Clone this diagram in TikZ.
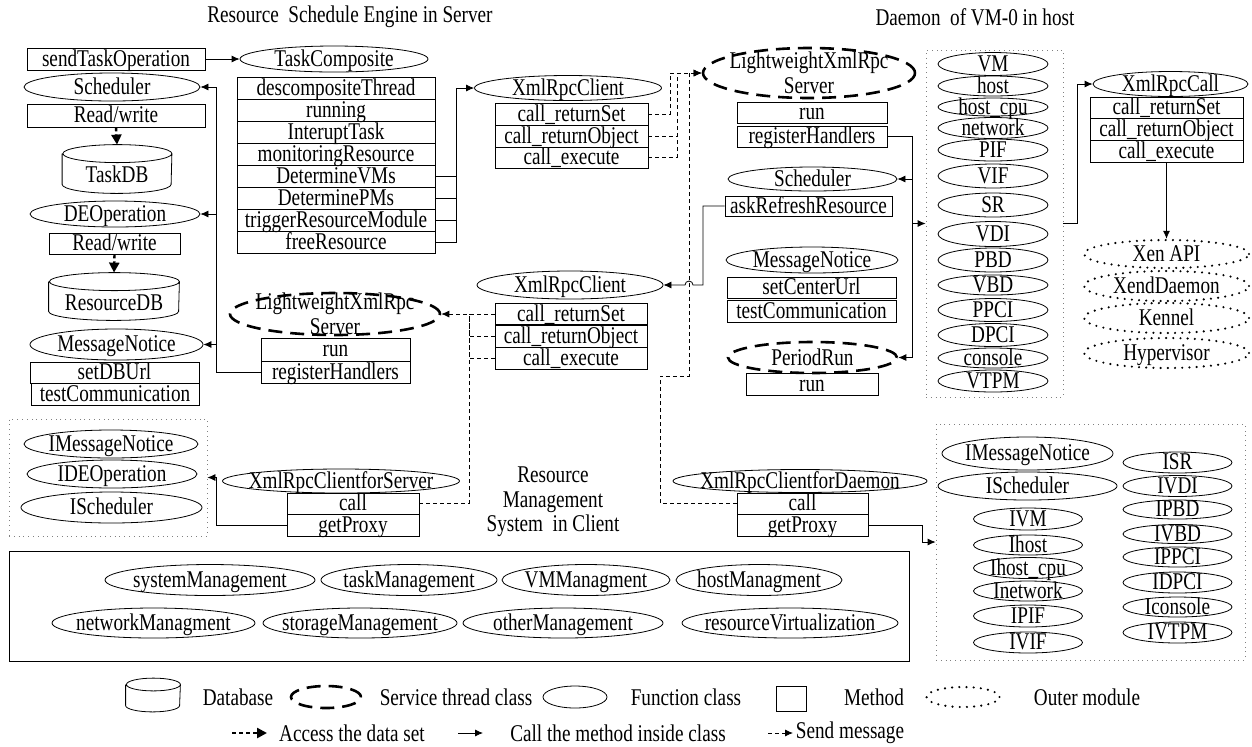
\documentclass[tikz,border=0pt]{standalone}
\usepackage{fontspec}
\setmainfont{Liberation Serif}[FakeStretch=0.8]
\usetikzlibrary{shapes.geometric,arrows.meta,calc}
\tikzset{
    method/.style={draw, rectangle, inner sep=0pt, text height=8.5pt, text depth=1.5pt},
    func/.style={draw, ellipse, inner sep=-30pt, text height=8.5pt, text depth=1.5pt},
    service/.style={draw, ellipse, inner sep=-30pt, line width=1.3pt, dash pattern=on 7pt off 4pt},
    outer/.style={draw, ellipse, inner sep=-30pt, line width=1.2pt, line cap=round, dash pattern=on 0pt off 3.6pt, text height=8.5pt, text depth=1.5pt},
    db/.style={rectangle, inner sep=0pt, text height=15pt, text depth=1.5pt},
    group/.style={draw=gray, dotted, rectangle, inner sep=0pt},
    call/.style={-{Latex[length=4pt,width=3.5pt]}},
    msg/.style={dash pattern=on 2pt off 1.5pt},
    data/.style={line width=1.2pt, dash pattern=on 2pt off 1.5pt, -{Triangle[length=5pt,width=5pt]}}
}
% database outline round a node: name, half width, half height of the cap
\newcommand{\dbdraw}[3]{%
  \draw ([yshift=-#3]#1.north west) -- ([yshift=#3]#1.south west)
    arc[start angle=180, end angle=360, x radius=#2, y radius=#3]
    -- ([yshift=-#3]#1.north east)
    arc[start angle=0, end angle=360, x radius=#2, y radius=#3];
}
\begin{document}
\begin{tikzpicture}[x=0.5pt,y=-0.5pt,every node/.style={font=\fontsize{12}{12.5}\selectfont}]
\useasboundingbox (0,0) rectangle (1252,746);

% titles
\node (ttlS) at (350,17) {Resource\ \ Schedule Engine in Server};
\node (ttlD) at (975,17) {Daemon\ \ of VM-0 in host};

% server, left column
\node[method, minimum width=89pt, minimum height=11pt] (sendop) at (116,59) {sendTaskOperation};
\node[func, minimum width=88pt, minimum height=14pt] (schedL) at (112,87) {Scheduler};
\node[method, minimum width=89pt, minimum height=11.5pt] (rw1) at (116,115.5) {Read/write};
\node[db, minimum width=54.5pt, minimum height=24pt] (taskdb) at (117,169) {TaskDB};
\dbdraw{taskdb}{27.25pt}{4.5pt}
\node[func, minimum width=85pt, minimum height=13pt] (deop) at (115,214) {DEOperation};
\node[method, minimum width=65.5pt, minimum height=10.5pt] (rw2) at (114.5,243.5) {Read/write};
\node[db, minimum width=65pt, minimum height=23.5pt] (resdb) at (114,296.5) {ResourceDB};
\dbdraw{resdb}{32.5pt}{4.5pt}
\node[func, minimum width=86.5pt, minimum height=15.5pt] (msgL) at (116.5,344.5) {MessageNotice};
\node[method, minimum width=84.5pt, minimum height=10.5pt] (setdb) at (114.5,372.5) {setDBUrl};
\node[method, minimum width=84pt, minimum height=11pt] (testL) at (115,394) {testCommunication};

\draw[data] (rw1.south) -- (taskdb.north);
\draw[data] (rw2.south) -- (resdb.north);

% task composite
\node[func, minimum width=94pt, minimum height=13pt] (tcomp) at (334,59) {TaskComposite};
\node[method, minimum width=99pt, minimum height=11pt] (tc1) at (336,88) {descompositeThread};
\node[method, minimum width=99pt, minimum height=11pt] (tc2) at (336,110) {running};
\node[method, minimum width=99pt, minimum height=11pt] (tc3) at (336,132) {InteruptTask};
\node[method, minimum width=99pt, minimum height=11pt] (tc4) at (336,154) {monitoringResource};
\node[method, minimum width=99pt, minimum height=11pt] (tc5) at (336,176) {DetermineVMs};
\node[method, minimum width=99pt, minimum height=11pt] (tc6) at (336,198) {DeterminePMs};
\node[method, minimum width=99pt, minimum height=11pt] (tc7) at (336,220) {triggerResourceModule};
\node[method, minimum width=99pt, minimum height=11pt] (tc8) at (336,242) {freeResource};

\draw[call] (sendop.east) -- (tcomp.west);

% client in server
\node[func, minimum width=93.5pt, minimum height=12.5pt] (xcT) at (568,88) {XmlRpcClient};
\node[method, minimum width=76.5pt, minimum height=11pt] (xcT1) at (571.5,114) {call\_returnSet};
\node[method, minimum width=76.5pt, minimum height=11pt] (xcT2) at (571.5,136) {call\_returnObject};
\node[method, minimum width=76.5pt, minimum height=10.5pt] (xcT3) at (571.5,157.5) {call\_execute};

\coordinate (jT) at (456,88);
\draw[call] (tc8.east) -| (jT) -- (xcT.west);
\draw (tc5.east) -- (tc5.east -| jT);
\draw (tc6.east) -- (tc6.east -| jT);
\draw (tc7.east) -- (tc7.east -| jT);

% server thread of the daemon
\node[service, minimum width=106pt, minimum height=25pt, align=center] (lwsT) at (809,73) {LightweightXmlRpc\\Server};
\node[method, minimum width=75pt, minimum height=10.5pt] (lwsTrun) at (812,112.5) {run};
\node[method, minimum width=75pt, minimum height=10.5pt] (lwsTreg) at (812,136.5) {registerHandlers};

\coordinate (m1) at (670,73);
\coordinate (m2) at (677,73);
\coordinate (d1) at (660,376);
\coordinate (d2) at (689,376);
\draw[msg,call] (xcT1.east) -| (m1) -- (lwsT.west);
\draw[msg] (xcT2.east) -| (m2);
\draw[msg] (xcT3.east) -| (m2);

% daemon classes
\node[func, minimum width=84.5pt, minimum height=12pt] (schedR) at (812.5,179) {Scheduler};
\node[method, minimum width=83.5pt, minimum height=10pt] (askref) at (808.5,206) {askRefreshResource};
\node[func, minimum width=86pt, minimum height=13pt] (msgR) at (812,260) {MessageNotice};
\node[method, minimum width=84.5pt, minimum height=10.5pt] (setcenter) at (811.5,287.5) {setCenterUrl};
\node[method, minimum width=84.5pt, minimum height=11pt] (testR) at (811.5,311) {testCommunication};
\node[service, minimum width=84.5pt, minimum height=15.5pt] (prun) at (812.5,357.5) {PeriodRun};
\node[method, minimum width=66pt, minimum height=11pt] (prunrun) at (812,384) {run};

% VM-0 objects
\node[group, minimum width=68.5pt, minimum height=173.5pt] (vmbox) at (994.5,223.5) {};
\node[func, minimum width=55pt, minimum height=11.5pt] (v1) at (993,64) {VM};
\node[func, minimum width=55pt, minimum height=10pt] (v2) at (993,86) {host};
\node[func, minimum width=55pt, minimum height=9pt] (v3) at (993,107) {host\_cpu};
\node[func, minimum width=55pt, minimum height=10.5pt] (v4) at (993,128) {network};
\node[func, minimum width=55pt, minimum height=11pt] (v5) at (993,150) {PIF};
\node[func, minimum width=55pt, minimum height=12pt] (v6) at (993,176) {VIF};
\node[func, minimum width=55pt, minimum height=12pt] (v7) at (993,205) {SR};
\node[func, minimum width=55pt, minimum height=12.5pt] (v8) at (993,234) {VDI};
\node[func, minimum width=55pt, minimum height=12pt] (v9) at (993,260) {PBD};
\node[func, minimum width=55pt, minimum height=10pt] (v10) at (993,285) {VBD};
\node[func, minimum width=55pt, minimum height=11.5pt] (v11) at (993,310) {PPCI};
\node[func, minimum width=55pt, minimum height=11.5pt] (v12) at (993,335) {DPCI};
\node[func, minimum width=55pt, minimum height=10pt] (v13) at (993,358) {console};
\node[func, minimum width=55pt, minimum height=11pt] (v14) at (993,381) {VTPM};

\coordinate (busR) at (912,357.5);
\draw[call] (lwsTreg.east) -| (busR) -- (prun.east);
\draw[call] (schedR.east -| busR) -- (schedR.east);
\draw[call] (vmbox.west -| busR) -- (vmbox.west);

% xen side
\node[func, minimum width=77.5pt, minimum height=12.5pt] (xcall) at (1170.5,84) {XmlRpcCall};
\node[method, minimum width=76.5pt, minimum height=10.5pt] (xcall1) at (1166.5,107.5) {call\_returnSet};
\node[method, minimum width=76.5pt, minimum height=11pt] (xcall2) at (1166.5,129) {call\_returnObject};
\node[method, minimum width=76.5pt, minimum height=11pt] (xcall3) at (1166.5,151) {call\_execute};
\node[outer, minimum width=82.5pt, minimum height=14pt] (xen) at (1166.5,254) {Xen API};
\node[outer, minimum width=82.5pt, minimum height=15pt] (xend) at (1166.5,286) {XendDaemon};
\node[outer, minimum width=82.5pt, minimum height=15pt] (kennel) at (1166.5,318) {Kennel};
\node[outer, minimum width=82.5pt, minimum height=15pt] (hyper) at (1166.5,353) {Hypervisor};

\coordinate (b4) at (1077,84);
\draw[call] (vmbox.east) -| (b4) -- (xcall.west);
\draw[call] (xcall3.south) -- (xen.north);

% server thread of the engine
\node[service, minimum width=105pt, minimum height=21pt, align=center] (lwsL) at (335,314) {LightweightXmlRpc\\Server};
\node[method, minimum width=74.5pt, minimum height=11.5pt] (lwsLrun) at (335.5,349.5) {run};
\node[method, minimum width=74.5pt, minimum height=11pt] (lwsLreg) at (335.5,372) {registerHandlers};

\coordinate (busL) at (216,87);
\draw[call] (lwsLreg.west) -| (busL) -- (schedL.east);
\draw[call] (busL |- deop.east) -- (deop.east);
\draw[call] (busL |- msgL.east) -- (msgL.east);

% client of the daemon
\node[func, minimum width=93pt, minimum height=14pt] (xcM) at (570,285) {XmlRpcClient};
\node[method, minimum width=76pt, minimum height=10.5pt] (xcM1) at (571,314) {call\_returnSet};
\node[method, minimum width=76pt, minimum height=11pt] (xcM2) at (571,336) {call\_returnObject};
\node[method, minimum width=76pt, minimum height=11pt] (xcM3) at (571,358) {call\_execute};

\coordinate (m4) at (469,314);
\coordinate (h1) at (703,285);
\draw[msg,call] (xcM1.west) -- (lwsL.east);
\draw[msg] (xcM2.west) -| (m4);
\draw[msg] (xcM3.west) -| (m4);
\draw[call] (askref.west) -| (h1) -- ($(d2 |- h1)+(4,0)$) arc[start angle=0,end angle=-180,radius=4] -- (xcM.east);

% client interfaces
\node[group, minimum width=99pt, minimum height=58.5pt] (ifaceL) at (108,477.5) {};
\node[func, minimum width=87pt, minimum height=14pt] (imsgL) at (111,444) {IMessageNotice};
\node[func, minimum width=85pt, minimum height=14pt] (ideop) at (112,474) {IDEOperation};
\node[func, minimum width=90.5pt, minimum height=15.5pt] (ischedL) at (111.5,507.5) {IScheduler};

\node[func, minimum width=118.5pt, minimum height=12pt] (xcs) at (341,481) {XmlRpcClientforServer};
\node[method, minimum width=66pt, minimum height=10.5pt] (xcs1) at (353,503.5) {call};
\node[method, minimum width=66pt, minimum height=11pt] (xcs2) at (353,525) {getProxy};

\coordinate (b2) at (216,477.5);
\draw[call] (xcs2.west) -| (b2) -- (ifaceL.east);
\draw[msg] (xcs1.east) -| (m4);

\node[align=center] (rmsTtl) at (553,502) {Resource\\[-0.3pt]Management\\[-0.3pt]System\ \ in Client};

\node[func, minimum width=127pt, minimum height=11.5pt] (xcd) at (800,481) {XmlRpcClientforDaemon};
\node[method, minimum width=65.5pt, minimum height=10.5pt] (xcd1) at (802.5,503.5) {call};
\node[method, minimum width=65.5pt, minimum height=11pt] (xcd2) at (802.5,525) {getProxy};

\draw[msg,call] (xcd1.west) -| (d1) -- (d2) |- (lwsT.west);

\node[group, minimum width=154.5pt, minimum height=118pt] (ifaceR) at (1090.5,542) {};
\node[func, minimum width=85.5pt, minimum height=16.5pt] (imsgR) at (1027.5,453.5) {IMessageNotice};
\node[func, minimum width=89.5pt, minimum height=14pt] (ischedR) at (1027.5,486) {IScheduler};
\node[func, minimum width=54.5pt, minimum height=11pt] (ivm) at (1028,519) {IVM};
\node[func, minimum width=54.5pt, minimum height=10pt] (ihost) at (1028,545) {Ihost};
\node[func, minimum width=54.5pt, minimum height=10.5pt] (ihostcpu) at (1028,568) {Ihost\_cpu};
\node[func, minimum width=54.5pt, minimum height=10pt] (inet) at (1028,591) {Inetwork};
\node[func, minimum width=54.5pt, minimum height=11pt] (ipif) at (1028,616) {IPIF};
\node[func, minimum width=54.5pt, minimum height=10.5pt] (ivif) at (1028,642.5) {IVIF};
\node[func, minimum width=54.5pt, minimum height=10.5pt] (isr) at (1177.5,462.5) {ISR};
\node[func, minimum width=54.5pt, minimum height=10.5pt] (ivdi) at (1177.5,486) {IVDI};
\node[func, minimum width=54.5pt, minimum height=9.5pt] (ipbd) at (1177.5,509.5) {IPBD};
\node[func, minimum width=54.5pt, minimum height=9.5pt] (ivbd) at (1177.5,534) {IVBD};
\node[func, minimum width=54.5pt, minimum height=10pt] (ippci) at (1177.5,557) {IPPCI};
\node[func, minimum width=54.5pt, minimum height=10.5pt] (idpci) at (1177.5,582.5) {IDPCI};
\node[func, minimum width=54.5pt, minimum height=10pt] (icons) at (1177.5,607) {Iconsole};
\node[func, minimum width=54.5pt, minimum height=10.5pt] (ivtpm) at (1177.5,632.5) {IVTPM};

\coordinate (b3) at (922,542);
\draw[call] (xcd2.east) -| (b3) -- (ifaceR.west);

% management modules
\node[draw, rectangle, minimum width=450pt, minimum height=55pt] (clientbox) at (459,606) {};
\node[func, minimum width=105pt, minimum height=15.5pt] (sysm) at (210,580) {systemManagement};
\node[func, minimum width=88pt, minimum height=15.5pt] (taskm) at (409,580) {taskManagement};
\node[func, minimum width=84pt, minimum height=15.5pt] (vmm) at (586,580) {VMManagment};
\node[func, minimum width=83pt, minimum height=15.5pt] (hostm) at (759,580) {hostManagment};
\node[func, minimum width=101.5pt, minimum height=15pt] (netm) at (153.5,623) {networkManagment};
\node[func, minimum width=97pt, minimum height=15pt] (storm) at (360,623) {storageManagement};
\node[func, minimum width=100pt, minimum height=15pt] (othm) at (563,623) {otherManagement};
\node[func, minimum width=108pt, minimum height=15pt] (resv) at (790,623) {resourceVirtualization};

% legend
\node[db, minimum width=27pt, minimum height=15pt] (lgdb) at (153,695) {};
\dbdraw{lgdb}{13.5pt}{3.2pt}
\node (lgdbT) at (238,697) {Database};
\node[service, minimum width=35pt, minimum height=11pt] (lgsv) at (326,697) {};
\node (lgsvT) at (456,697) {Service thread class};
\node[func, minimum width=32pt, minimum height=11pt] (lgfn) at (575,697) {};
\node (lgfnT) at (686,697) {Function class};
\node[method, minimum width=15pt, minimum height=12.5pt] (lgmt) at (791,698.5) {};
\node (lgmtT) at (874,697) {Method};
\node[outer, minimum width=36.5pt, minimum height=10pt] (lgout) at (963,697) {};
\node (lgoutT) at (1087,697) {Outer module};

\coordinate (la1) at (232,733);
\coordinate (la2) at (267,733);
\coordinate (lb1) at (458,733);
\coordinate (lb2) at (483,733);
\coordinate (lc1) at (768,733);
\coordinate (lc2) at (793,733);
\draw[data] (la1) -- (la2);
\draw[call] (lb1) -- (lb2);
\draw[msg,call] (lc1) -- (lc2);
\node (lgaccT) at (352,733) {Access the data set};
\node (lgcallT) at (618,733) {Call the method inside class};
\node (lgsendT) at (850,733) {Send message};
\end{tikzpicture}
\end{document}
